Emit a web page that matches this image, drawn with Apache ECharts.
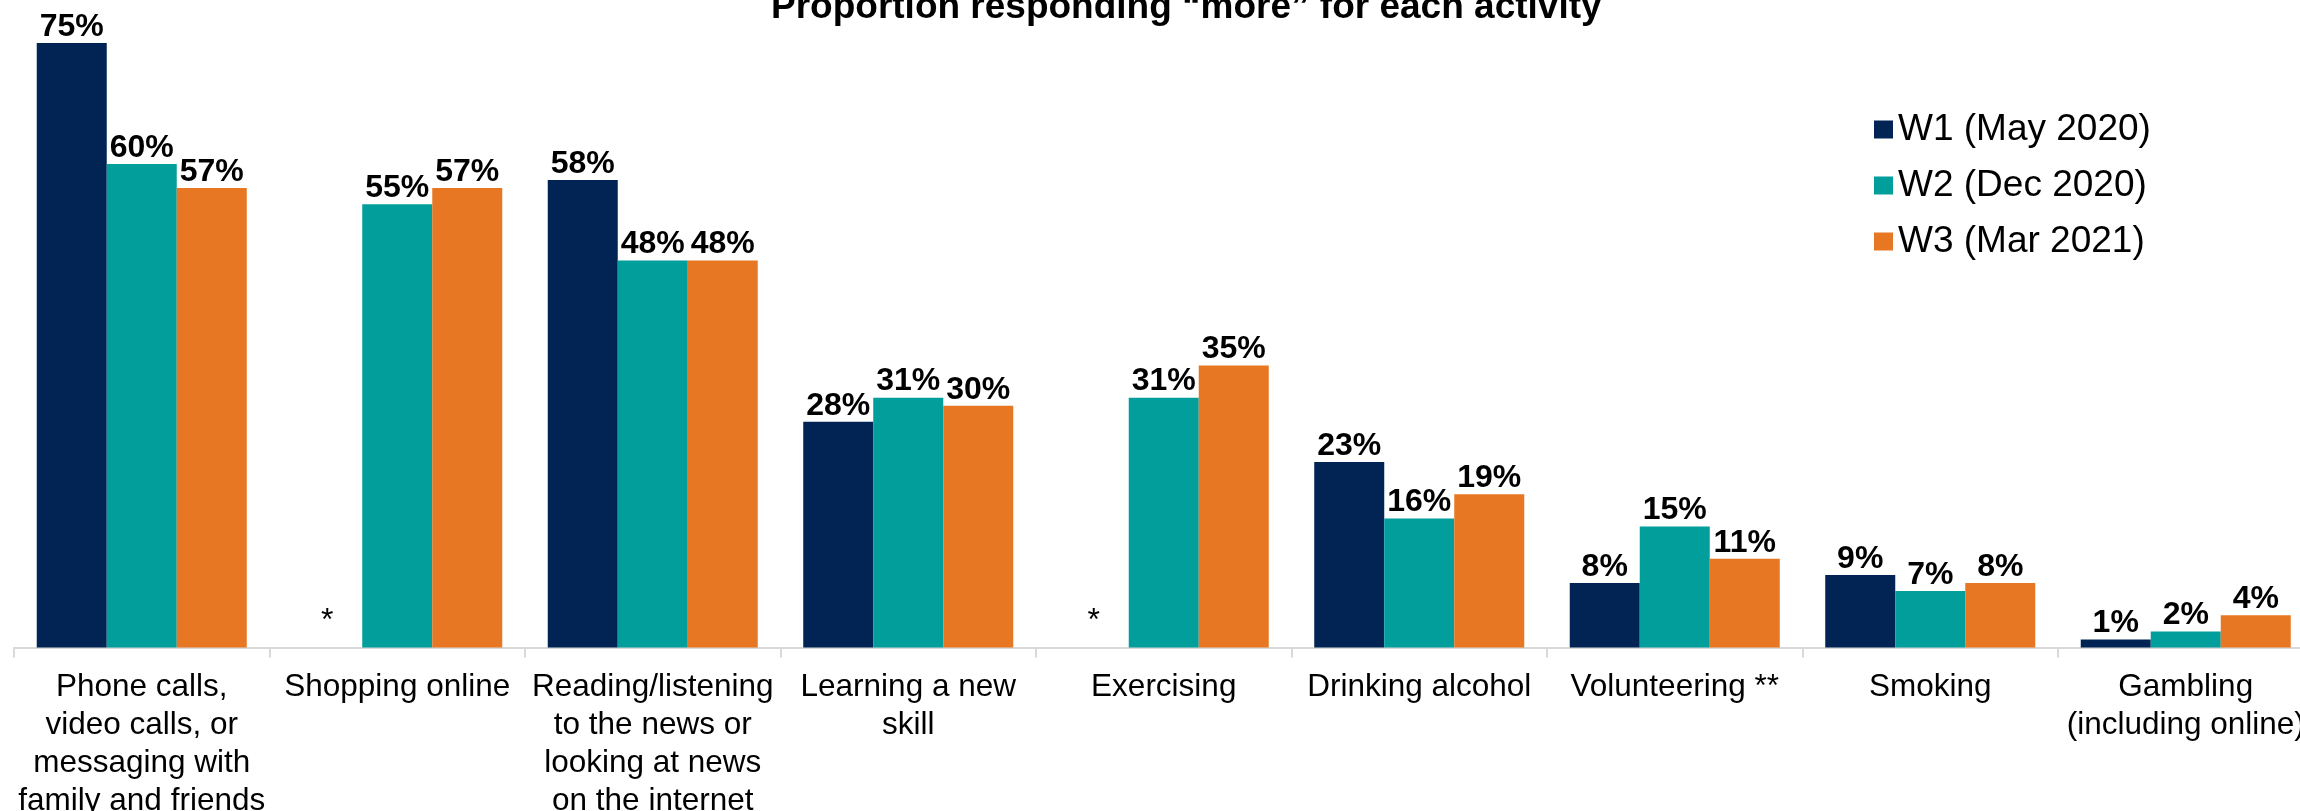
<!DOCTYPE html>
<html>
<head>
<meta charset="utf-8">
<title>Proportion responding "more" for each activity</title>
<script src="https://cdn.jsdelivr.net/npm/echarts@6/dist/echarts.min.js"></script>
<style>
  html, body { margin: 0; padding: 0; background: #ffffff; }
  #chart { width: 2300px; height: 811px; }
</style>
</head>
<body>
<div id="chart"></div>
<script>
// Activities (x-axis categories)
const categories = [
  'Phone calls,\nvideo calls, or\nmessaging with\nfamily and friends',
  'Shopping online',
  'Reading/listening\nto the news or\nlooking at news\non the internet',
  'Learning a new\nskill',
  'Exercising',
  'Drinking alcohol',
  'Volunteering **',
  'Smoking',
  'Gambling\n(including online)'
];

// Survey waves
const waveNames = ['W1 (May 2020)', 'W2 (Dec 2020)', 'W3 (Mar 2021)'];

// Percent responding "more"; null = not asked in that wave (shown as *)
const w1 = [75, null, 58, 28, null, 23, 8, 9, 1];
const w2 = [60, 55, 48, 31, 31, 16, 15, 7, 2];
const w3 = [57, 57, 48, 30, 35, 19, 11, 8, 4];

const colors = ['#012454', '#019e9c', '#e77722'];
const FONT = "'Liberation Sans', Arial, Helvetica, sans-serif";

function toData(values) {
  return values.map(v => v === null
    ? { value: 0, label: { formatter: '*', fontWeight: 'normal', distance: 10 } }
    : v);
}

const chart = echarts.init(document.getElementById('chart'), null, { renderer: 'canvas' });

chart.setOption({
  animation: false,
  backgroundColor: '#ffffff',
  textStyle: { fontFamily: FONT },
  title: {
    text: 'Proportion responding \u201cmore\u201d for each activity',
    left: 771,
    top: -11,
    padding: 0,
    textStyle: { fontFamily: FONT, fontSize: 37, fontWeight: 'bold', color: '#000', lineHeight: 37 }
  },
  legend: {
    orient: 'vertical',
    left: 1874,
    top: 111,
    padding: 0,
    icon: 'rect',
    itemWidth: 19,
    itemHeight: 18,
    itemGap: 19,
    itemTextGap: 9,
    textStyle: { fontFamily: FONT, fontSize: 37, lineHeight: 36, color: '#000' },
    data: waveNames
  },
  grid: {
    left: 14,
    top: 2.7,
    width: 2299.5,
    bottom: 163.5,
    containLabel: false,
    outerBoundsMode: 'none'
  },
  xAxis: {
    type: 'category',
    data: categories,
    axisLine: { show: true, lineStyle: { color: '#d9d9d9', width: 2 } },
    axisTick: { show: true, length: 10, lineStyle: { color: '#d9d9d9', width: 2 } },
    axisLabel: {
      interval: 0,
      margin: 21,
      fontFamily: FONT,
      fontSize: 31.5,
      lineHeight: 38,
      color: '#000',
      align: 'center'
    }
  },
  yAxis: {
    type: 'value',
    min: 0,
    max: 80,
    show: false,
    splitLine: { show: false }
  },
  series: [w1, w2, w3].map((vals, i) => ({
    name: waveNames[i],
    type: 'bar',
    data: toData(vals),
    barGap: '0%',
    barCategoryGap: '17.8%',
    itemStyle: { color: colors[i] },
    label: {
      show: true,
      position: 'top',
      distance: 0,
      formatter: '{c}%',
      fontFamily: FONT,
      fontSize: 32,
      fontWeight: 'bold',
      color: '#000'
    }
  }))
});
</script>
</body>
</html>
